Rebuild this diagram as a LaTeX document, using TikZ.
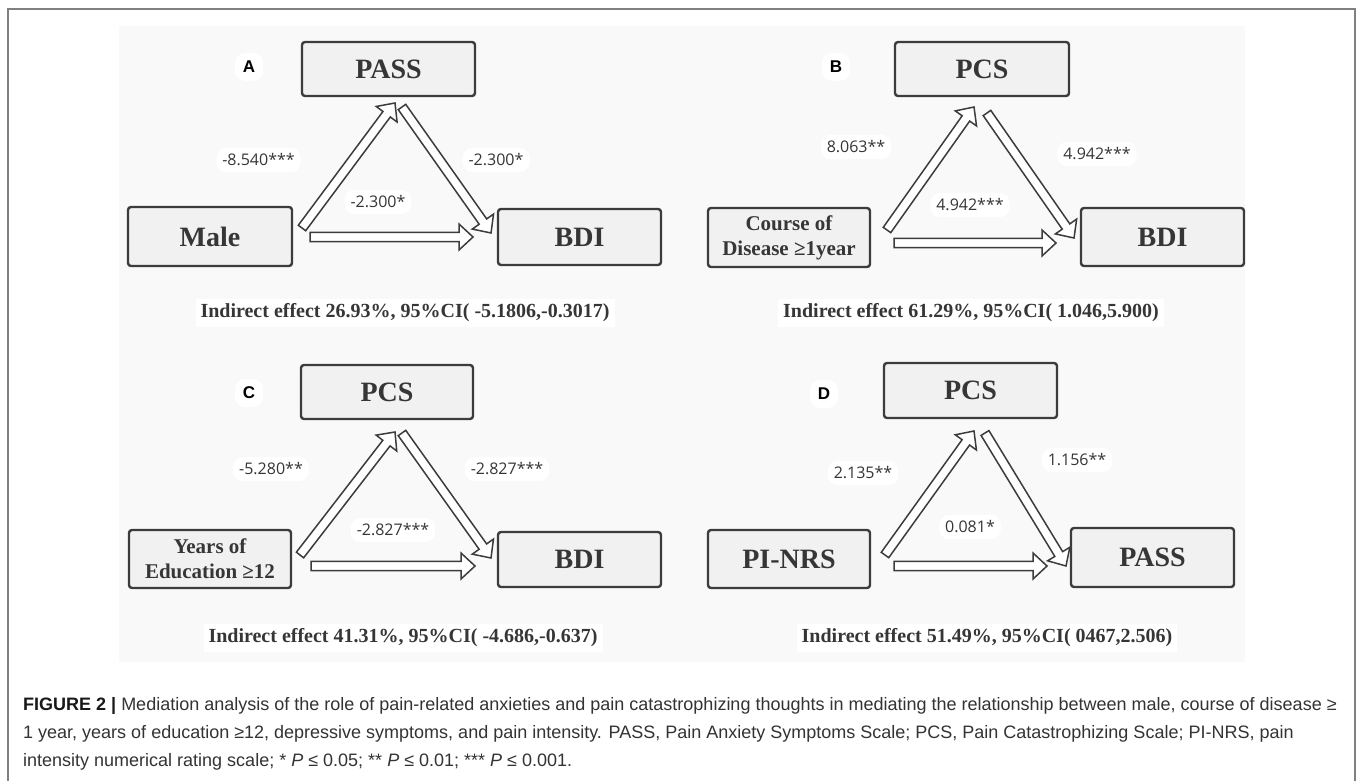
\documentclass[tikz,border=0pt]{standalone}
\usepackage{fontspec}
\setmainfont{Liberation Serif}
\newfontfamily\capfont{Liberation Sans}
\newfontfamily\lblfont{Open Sans}
\usetikzlibrary{calc}
\definecolor{framegray}{HTML}{808080}
\definecolor{panelbg}{HTML}{F9F9F9}
\definecolor{boxfill}{HTML}{F1F1F1}
\definecolor{boxline}{HTML}{3C3C3C}
\definecolor{txt}{HTML}{363636}
\definecolor{captxt}{HTML}{333333}
\tikzset{
  varbox/.style={draw=boxline, line width=2.4pt, fill=boxfill, rounded corners=3pt,
    text=txt, font=\bfseries\fontsize{28}{30}\selectfont, minimum width=163pt, minimum height=56pt, inner sep=0pt},
  smallvar/.style={varbox, font=\bfseries\fontsize{21}{25}\selectfont, align=center},
  coef/.style={font=\lblfont\fontsize{16}{18}\selectfont, text=txt, fill=white, rounded corners=10pt, inner sep=6pt},
  panellbl/.style={font=\capfont\bfseries\fontsize{17}{19}\selectfont, text=black, fill=white, rounded corners=10pt, inner sep=8pt},
  indirect/.style={font=\bfseries\fontsize{20}{22}\selectfont, text=txt, fill=white, inner sep=5pt},
  blockarr/.style={draw=boxline, line width=1.5pt, fill=white, line join=miter},
  capline/.style={anchor=base west, inner sep=0pt, text=captxt, font=\capfont\fontsize{18}{20}\selectfont}
}
\newcommand{\blockarrow}[2]{%
  \path ($(#2)!14pt!(#1)$) coordinate (bh);
  \draw[blockarr] ($(#1)!4.6pt!90:(#2)$) -- ($(bh)!4.6pt!-90:(#1)$) -- ($(bh)!13pt!-90:(#1)$) -- (#2) -- ($(bh)!13pt!90:(#1)$) -- ($(bh)!4.6pt!90:(#1)$) -- ($(#1)!4.6pt!-90:(#2)$) -- cycle;}
\begin{document}
\begin{tikzpicture}[x=1pt,y=-1pt]
\useasboundingbox (0,0) rectangle (1360,781);
\fill[white] (0,0) rectangle (1360,781);
% outer frame
\draw[framegray, line width=2pt] (8,781) -- (8,9) -- (1355,9) -- (1355,781);
% panel background
\fill[panelbg] (119,26) rectangle (1245,662);

% ---------- Panel A ----------
\node[panellbl] (lA) at (249,67) {A};
\node[varbox, minimum width=173pt, minimum height=54pt] (passA) at (388.5,69) {PASS};
\node[varbox, minimum width=164pt, minimum height=59pt] (maleA) at (210,236.5) {Male};
\node[varbox, minimum width=163pt, minimum height=56pt] (bdiA) at (579.5,237) {BDI};
\node[coef] (cA1) at (258.5,160) {-8.540***};
\node[coef] (cA2) at (496,160) {-2.300*};
\node[coef] (cA3) at (378,202) {-2.300*};
\node[indirect] (iA) at (405,313) {Indirect effect 26.93\%, 95\%CI( -5.1806,-0.3017)};
\coordinate (Au1) at (302,228); \coordinate (Au2) at (395,103);
\coordinate (Ad1) at (402,107); \coordinate (Ad2) at (491,233);
\coordinate (Ah1) at (310,237); \coordinate (Ah2) at (473,237);
\blockarrow{Au1}{Au2}
\blockarrow{Ad1}{Ad2}
\blockarrow{Ah1}{Ah2}

% ---------- Panel B ----------
\node[panellbl] (lB) at (836,67) {B};
\node[varbox, minimum width=174pt, minimum height=54pt] (pcsB) at (982,69) {PCS};
\node[smallvar, minimum width=162pt, minimum height=59pt] (courseB) at (789,237.5) {Course of\\Disease ≥1year};
\node[varbox, minimum width=163pt, minimum height=58pt] (bdiB) at (1162.5,237) {BDI};
\node[coef] (cB1) at (856,147) {8.063**};
\node[coef] (cB2) at (1097,154) {4.942***};
\node[coef] (cB3) at (970,205) {4.942***};
\node[indirect] (iB) at (971,313) {Indirect effect 61.29\%, 95\%CI( 1.046,5.900)};
\coordinate (Bu1) at (887,230); \coordinate (Bu2) at (974,107);
\coordinate (Bd1) at (987,113); \coordinate (Bd2) at (1074,238);
\coordinate (Bh1) at (894,243); \coordinate (Bh2) at (1056,243);
\blockarrow{Bu1}{Bu2}
\blockarrow{Bd1}{Bd2}
\blockarrow{Bh1}{Bh2}

% ---------- Panel C ----------
\node[panellbl] (lC) at (249,393) {C};
\node[varbox, minimum width=172pt, minimum height=54pt] (pcsC) at (387,392) {PCS};
\node[smallvar, minimum width=162pt, minimum height=58pt] (yearsC) at (210,559) {Years of\\Education ≥12};
\node[varbox, minimum width=163pt, minimum height=55pt] (bdiC) at (579.5,559.5) {BDI};
\node[coef] (cC1) at (271,469) {-5.280**};
\node[coef] (cC2) at (507,469) {-2.827***};
\node[coef] (cC3) at (393,530) {-2.827***};
\node[indirect] (iC) at (403,638) {Indirect effect 41.31\%, 95\%CI( -4.686,-0.637)};
\coordinate (Cu1) at (300,555); \coordinate (Cu2) at (395,432);
\coordinate (Cd1) at (402,433); \coordinate (Cd2) at (491,558);
\coordinate (Ch1) at (311,566); \coordinate (Ch2) at (475,566);
\blockarrow{Cu1}{Cu2}
\blockarrow{Cd1}{Cd2}
\blockarrow{Ch1}{Ch2}

% ---------- Panel D ----------
\node[panellbl] (lD) at (824,394) {D};
\node[varbox, minimum width=173pt, minimum height=55pt] (pcsD) at (970.5,390.5) {PCS};
\node[varbox, minimum width=162pt, minimum height=58pt] (nrsD) at (789,559) {PI-NRS};
\node[varbox, minimum width=163pt, minimum height=59pt] (passD) at (1152.5,557.5) {PASS};
\node[coef] (cD1) at (863,473) {2.135**};
\node[coef] (cD2) at (1077,460) {1.156**};
\node[coef] (cD3) at (970,527) {0.081*};
\node[indirect] (iD) at (987,638) {Indirect effect 51.49\%, 95\%CI( 0467,2.506)};
\coordinate (Du1) at (885,555); \coordinate (Du2) at (974,431);
\coordinate (Dd1) at (985,433); \coordinate (Dd2) at (1066,566);
\coordinate (Dh1) at (894,566); \coordinate (Dh2) at (1047,566);
\blockarrow{Du1}{Du2}
\blockarrow{Dd1}{Dd2}
\blockarrow{Dh1}{Dh2}

% ---------- Caption ----------
\node[capline] (cap1) at (23,710) {{\bfseries\color{black!90}FIGURE 2 |} Mediation analysis of the role of pain-related anxieties and pain catastrophizing thoughts in mediating the relationship between male, course of disease ≥};
\node[capline] (cap2) at (23,738) {1 year, years of education ≥12, depressive symptoms, and pain intensity. PASS, Pain Anxiety Symptoms Scale; PCS, Pain Catastrophizing Scale; PI-NRS, pain};
\node[capline] (cap3) at (23,766) {intensity numerical rating scale; * \textit{P} ≤ 0.05; ** \textit{P} ≤ 0.01; *** \textit{P} ≤ 0.001.};
\end{tikzpicture}
\end{document}
